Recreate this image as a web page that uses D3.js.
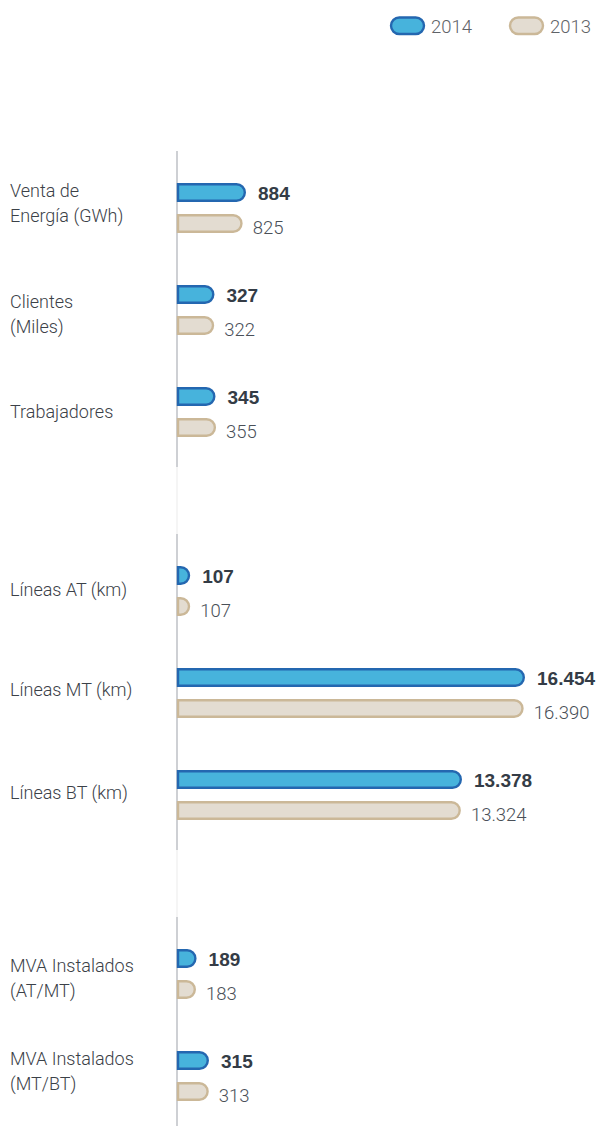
<!DOCTYPE html>
<html>
<head>
<meta charset="utf-8">
<script src="https://cdn.jsdelivr.net/npm/d3@7"></script>
<style>
  body { margin: 0; background: #fff; }
  svg { display: block; }
  .cat { font-family: 'Roboto', 'Liberation Sans', sans-serif; font-weight: 300; font-size: 18px; fill: #3b4148; }
  .val14 { font-family: 'Liberation Sans', sans-serif; font-weight: 700; font-size: 19px; fill: #343c46; }
  .val13 { font-family: 'Roboto', 'Liberation Sans', sans-serif; font-weight: 300; font-size: 18.5px; fill: #4a5058; }
  .leg { font-family: 'Roboto', 'Liberation Sans', sans-serif; font-weight: 300; font-size: 18.5px; fill: #5f6368; }
</style>
</head>
<body>
<div id="chart"></div>
<script>
// ---------- DATA ----------
const categories = [
  ['Venta de', 'Energía (GWh)'],
  ['Clientes', '(Miles)'],
  ['Trabajadores'],
  ['Líneas AT (km)'],
  ['Líneas MT (km)'],
  ['Líneas BT (km)'],
  ['MVA Instalados', '(AT/MT)'],
  ['MVA Instalados', '(MT/BT)']
];
const panelOf = [0, 0, 0, 1, 1, 1, 2, 2];
const values2014 = [884, 327, 345, 107, 16454, 13378, 189, 315];
const values2013 = [825, 322, 355, 107, 16390, 13324, 183, 313];
const seriesNames = ['2014', '2013'];

// ---------- LAYOUT ----------
const W = 605, H = 1129;
const axisX = 177;
const barH = 19, barGap = 31;
const rowPitch = 102, panelGap = 77, firstTop = 183;
// per panel: stub length and length of the longest bar
const panelRange = [[18, 68], [10, 347], [0, 31]];
const labelShift = [-11, -2, 6, 5, 3, 4, -2, -11];

const colors = {
  b14: { fill: '#47b3dc', stroke: '#2467b0' },
  b13: { fill: '#e3dcd1', stroke: '#cbb898' }
};

const fmt = d3.formatLocale({ decimal: ',', thousands: '.', grouping: [3], currency: ['', ''] }).format(',');

const svg = d3.select('#chart').append('svg')
  .attr('width', W).attr('height', H);

// one linear scale per panel
const scales = panelRange.map((r, p) => {
  const max = d3.max(values2014.concat(values2013).filter((v, i) => panelOf[i % values2014.length] === p));
  return d3.scaleLinear().domain([0, max]).range(r);
});

const rowTop = i => firstTop + i * rowPitch + panelOf[i] * panelGap;

// ---------- AXIS LINES ----------
const panels = d3.range(3).map(p => {
  const rows = d3.range(categories.length).filter(i => panelOf[i] === p);
  return { top: rowTop(rows[0]) - 32, bottom: rowTop(rows[rows.length - 1]) + barGap + barH + 30 };
});
panels.forEach((p, k) => {
  if (k > 0) {
    svg.append('line').attr('x1', axisX).attr('x2', axisX)
      .attr('y1', panels[k - 1].bottom).attr('y2', p.top)
      .attr('stroke', '#eeeeef').attr('stroke-width', 1.2);
  }
  svg.append('line').attr('x1', axisX).attr('x2', axisX)
    .attr('y1', p.top).attr('y2', k === 2 ? H - 3 : p.bottom)
    .attr('stroke', '#adb1b8').attr('stroke-width', 1.2);
});

// bar shape: square on the left, round on the right
function pill(x, y, w, h) {
  const r = Math.min(h / 2, w);
  return `M${x},${y}H${x + w - r}A${r},${h / 2} 0 0 1 ${x + w - r},${y + h}H${x}Z`;
}

// ---------- BARS ----------
const rows = svg.selectAll('.row')
  .data(categories.map((c, i) => ({ c, i })))
  .enter().append('g').attr('class', 'row');

rows.each(function (d) {
  const g = d3.select(this);
  const x = scales[panelOf[d.i]];
  const top = rowTop(d.i);
  const bars = [
    { v: values2014[d.i], y: top, col: colors.b14, cls: 'val14', dy: 7.5 },
    { v: values2013[d.i], y: top + barGap, col: colors.b13, cls: 'val13', dy: 10 }
  ];
  bars.forEach(b => {
    const w = x(b.v);
    g.append('path')
      .attr('d', pill(axisX + 1, b.y + 1.2, w - 1.2, barH - 2.4))
      .attr('fill', b.col.fill)
      .attr('stroke', b.col.stroke)
      .attr('stroke-width', 2.4);
    g.append('text')
      .attr('class', b.cls)
      .attr('x', axisX + w + (b.cls === 'val14' ? 13 : 11))
      .attr('y', b.y + barH / 2 + b.dy)
      .text(fmt(b.v));
  });

  const center = top + (barGap + barH) / 2;
  const t = g.append('text').attr('class', 'cat')
    .attr('x', 10).attr('y', center + labelShift[d.i]);
  d.c.forEach((line, k) => {
    t.append('tspan').attr('x', 10).attr('dy', k === 0 ? 0 : 25).text(line);
  });
});

// ---------- LEGEND ----------
const legend = svg.append('g');
[{ x: 391, col: colors.b14 }, { x: 510, col: colors.b13 }].forEach((l, k) => {
  legend.append('rect')
    .attr('x', l.x).attr('y', 17.5)
    .attr('width', 33).attr('height', 16.5)
    .attr('rx', 8.25)
    .attr('fill', l.col.fill).attr('stroke', l.col.stroke).attr('stroke-width', 2.4);
  legend.append('text').attr('class', 'leg')
    .attr('x', l.x + 40).attr('y', 33)
    .text(seriesNames[k]);
});
</script>
</body>
</html>
